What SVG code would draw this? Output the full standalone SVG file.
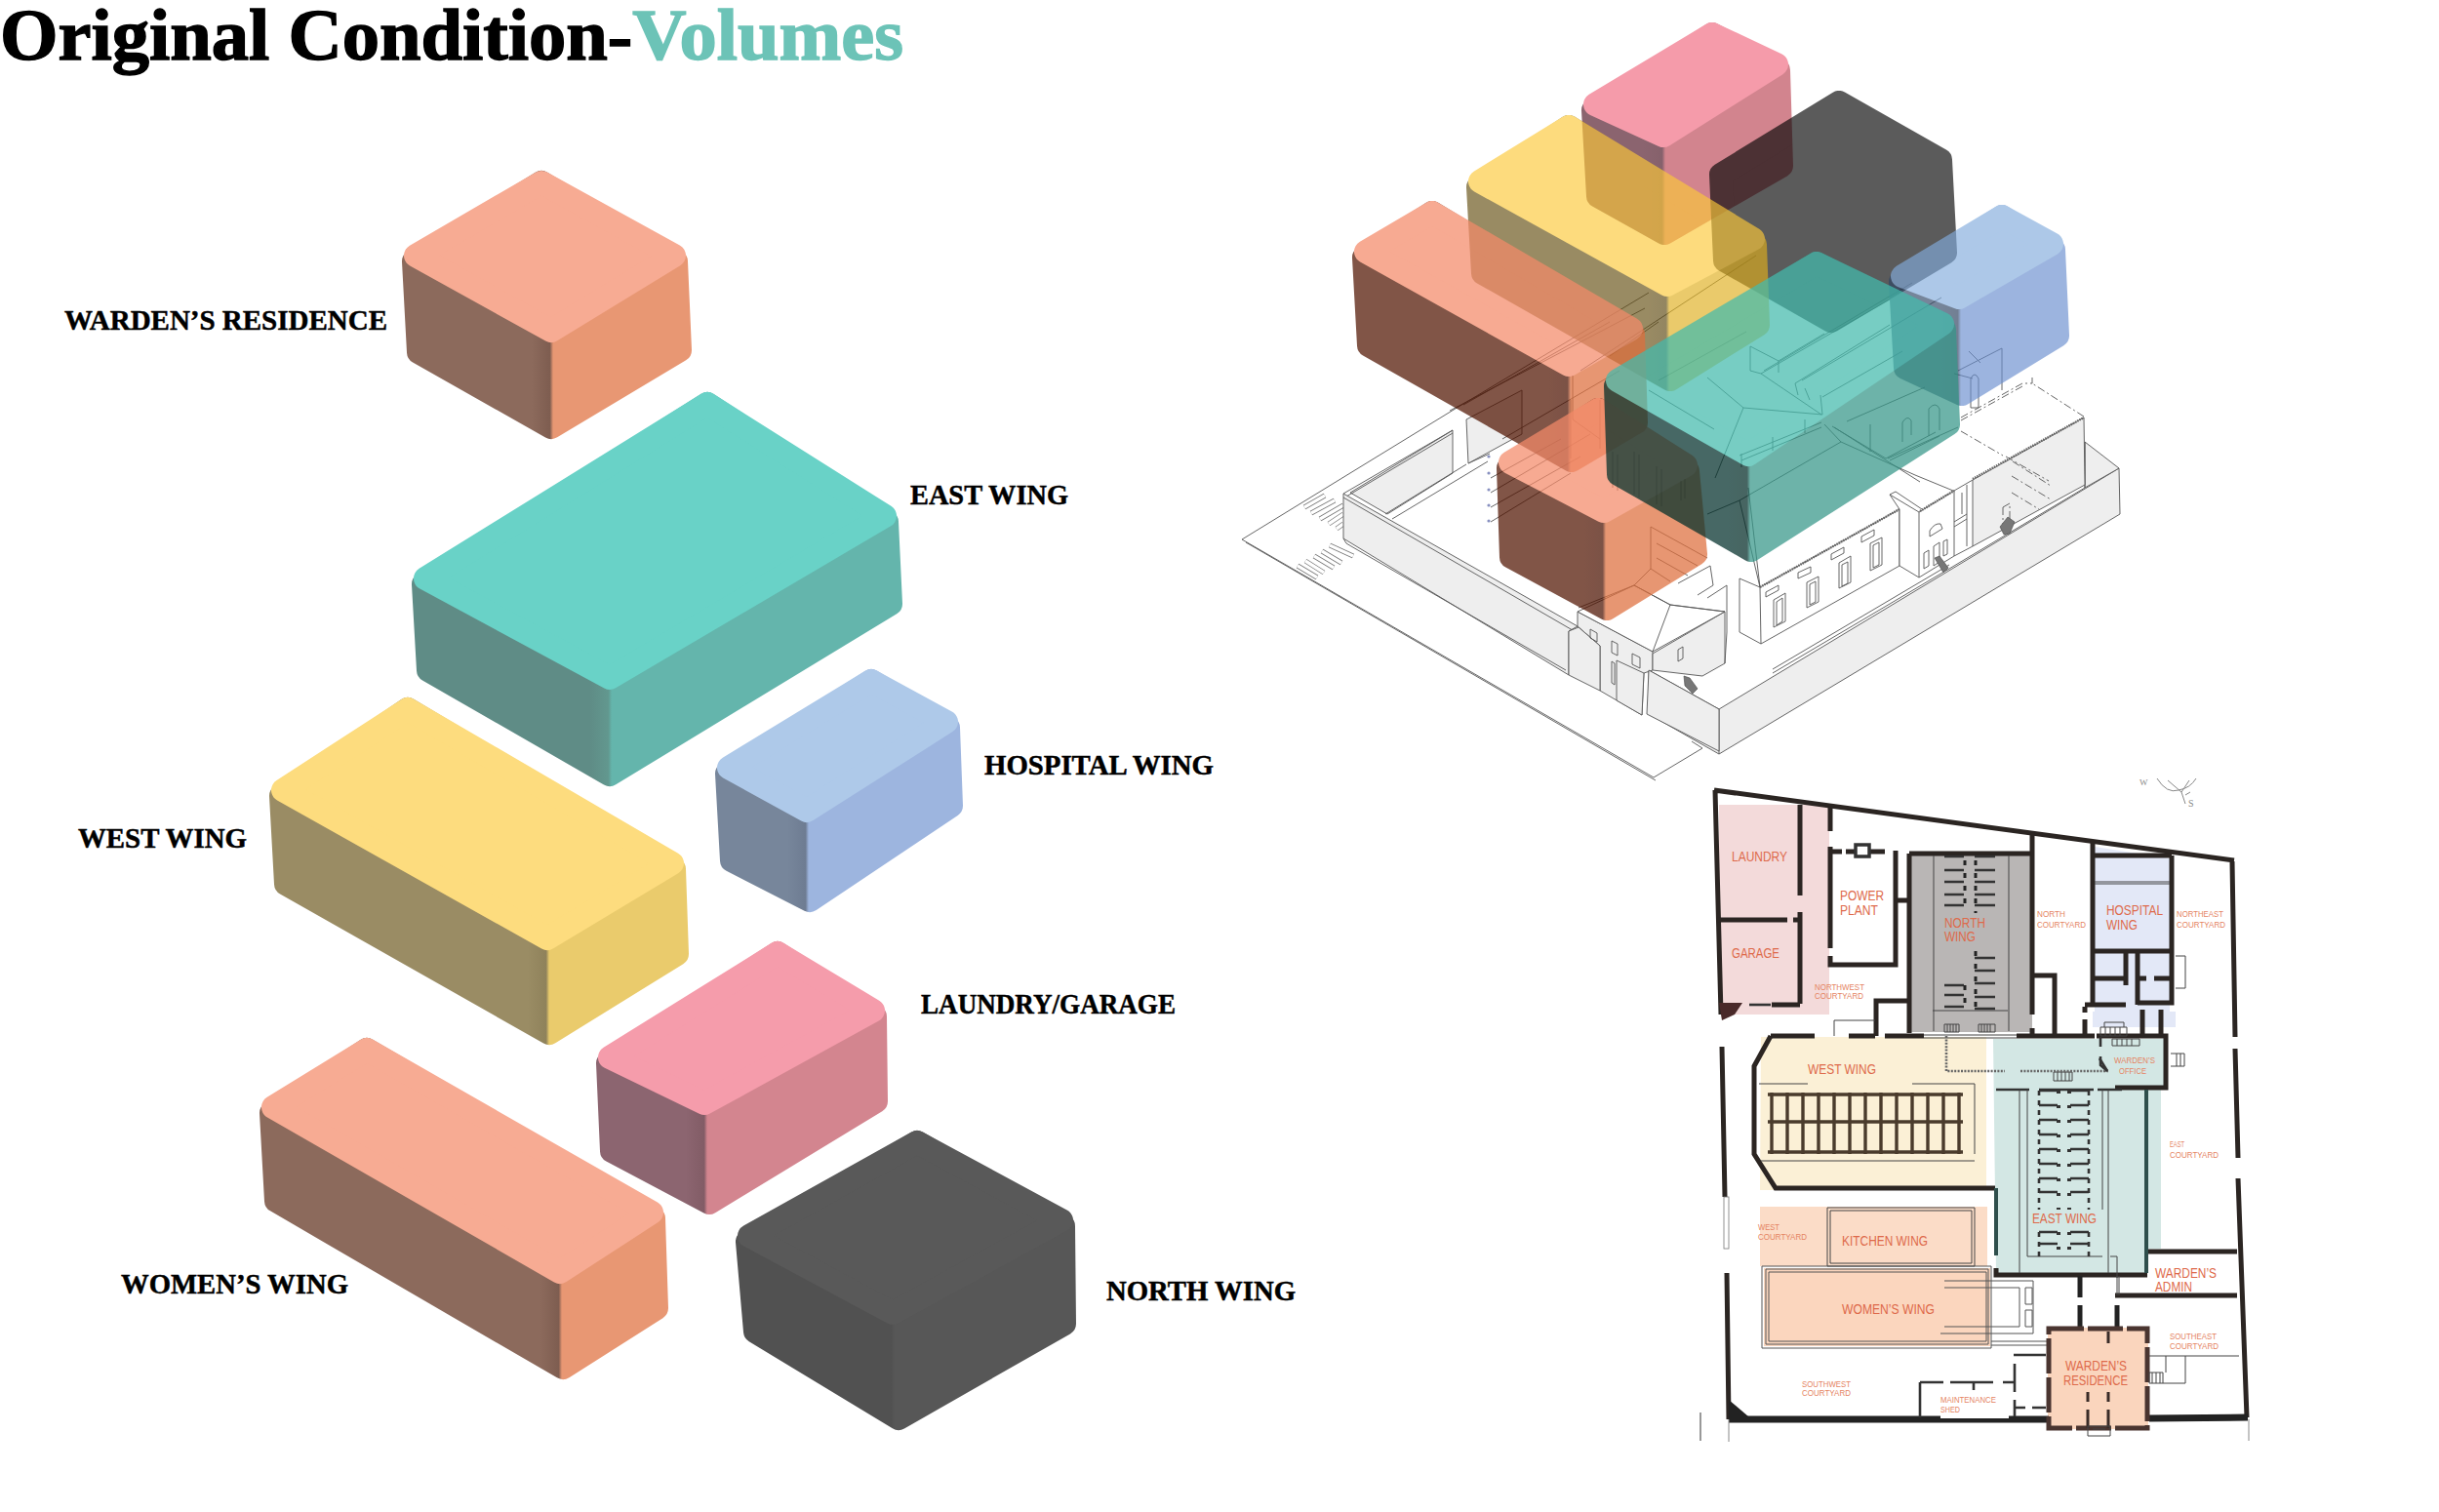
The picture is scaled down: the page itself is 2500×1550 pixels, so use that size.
<svg xmlns="http://www.w3.org/2000/svg" xmlns:xlink="http://www.w3.org/1999/xlink" width="2500" height="1550" viewBox="0 0 2500 1550">
<style>
text{font-family:"Liberation Serif","Times New Roman",serif}
.t{font-size:74px;font-weight:700;stroke:currentColor;stroke-width:1.4}
.l{font-size:30px;font-weight:700;fill:#000;stroke:#000;stroke-width:.5}
.s,.f{stroke-linejoin:round;stroke-width:24}
.p text{font-family:"Liberation Sans",Arial,sans-serif;fill:#DE6A4B;font-size:14px}
.p text.m{font-size:9px;fill:#E58463}
.vol{opacity:.65}
.vo{opacity:.72}
.a{fill:none;stroke:#555;stroke-width:.9}
.w{fill:#EEE;stroke:#555;stroke-width:.9;stroke-linejoin:round}
.bw{fill:#fff;stroke:#555;stroke-width:.9;stroke-linejoin:round}
.h{fill:none;stroke:#666;stroke-width:2.4;stroke-dasharray:1.5 1}
.k{fill:none;stroke:#2b2522;stroke-width:5}
.k2{fill:none;stroke:#333;stroke-width:2.6}
.th{fill:none;stroke:#444;stroke-width:1}
.lg{fill:none;stroke:#888;stroke-width:1}
.kb{fill:none;stroke:#4a3b2c;stroke-width:3.4}
</style>
<defs>
<linearGradient id="cO"><stop offset="0" stop-color="#8C6A5C"/><stop offset=".85" stop-color="#7E5D50"/><stop offset="1" stop-color="#E89773"/></linearGradient>
<linearGradient id="cT"><stop offset="0" stop-color="#5F8C86"/><stop offset=".85" stop-color="#62988F"/><stop offset="1" stop-color="#64B5AC"/></linearGradient>
<linearGradient id="cB"><stop offset="0" stop-color="#77869B"/><stop offset=".85" stop-color="#6E7C92"/><stop offset="1" stop-color="#9DB5DF"/></linearGradient>
<linearGradient id="cY"><stop offset="0" stop-color="#9A8C64"/><stop offset=".85" stop-color="#8F825B"/><stop offset="1" stop-color="#EACB6C"/></linearGradient>
<linearGradient id="cP"><stop offset="0" stop-color="#8C6570"/><stop offset=".85" stop-color="#825C66"/><stop offset="1" stop-color="#D3858F"/></linearGradient>
<linearGradient id="cD"><stop offset="0" stop-color="#515151"/><stop offset=".85" stop-color="#515151"/><stop offset="1" stop-color="#575757"/></linearGradient>
<linearGradient id="aO"><stop offset="0" stop-color="#511401"/><stop offset=".85" stop-color="#4A1000"/><stop offset="1" stop-color="#DF6F3D"/></linearGradient>
<linearGradient id="aT"><stop offset="0" stop-color="#012F2A"/><stop offset=".85" stop-color="#012A26"/><stop offset="1" stop-color="#369789"/></linearGradient>
<linearGradient id="aB"><stop offset="0" stop-color="#2E4565"/><stop offset=".85" stop-color="#273C5A"/><stop offset="1" stop-color="#688DCE"/></linearGradient>
<linearGradient id="aY"><stop offset="0" stop-color="#644E11"/><stop offset=".85" stop-color="#5A460E"/><stop offset="1" stop-color="#DFAF1D"/></linearGradient>
<linearGradient id="aP"><stop offset="0" stop-color="#4E1223"/><stop offset=".85" stop-color="#460E1E"/><stop offset="1" stop-color="#BB4353"/></linearGradient>
<linearGradient id="g1" href="#cO" gradientUnits="userSpaceOnUse" x1="545" x2="567"/>
<linearGradient id="g2" href="#cT" gradientUnits="userSpaceOnUse" x1="605" x2="627"/>
<linearGradient id="g3" href="#cB" gradientUnits="userSpaceOnUse" x1="807" x2="829"/>
<linearGradient id="g4" href="#cY" gradientUnits="userSpaceOnUse" x1="541" x2="563"/>
<linearGradient id="g5" href="#cP" gradientUnits="userSpaceOnUse" x1="703" x2="725"/>
<linearGradient id="g6" href="#cO" gradientUnits="userSpaceOnUse" x1="554" x2="576"/>
<linearGradient id="g7" href="#cD" gradientUnits="userSpaceOnUse" x1="895" x2="917"/>
<linearGradient id="h1" href="#aP" gradientUnits="userSpaceOnUse" x1="1685" x2="1707"/>
<linearGradient id="h3" href="#aY" gradientUnits="userSpaceOnUse" x1="1689" x2="1711"/>
<linearGradient id="h4" href="#aO" gradientUnits="userSpaceOnUse" x1="1588" x2="1610"/>
<linearGradient id="h5" href="#aB" gradientUnits="userSpaceOnUse" x1="1988" x2="2010"/>
<linearGradient id="h6" href="#aO" gradientUnits="userSpaceOnUse" x1="1624" x2="1646"/>
<linearGradient id="h7" href="#aT" gradientUnits="userSpaceOnUse" x1="1772" x2="1794"/>
<path id="stripes" d="M1337,520 L1358,508 M1344,526 L1368,513 M1353,532 L1377,518 M1362,537 L1377,527 M1370,542 L1377,537 M1330,580 L1350,592 M1338,575 L1357,587 M1347,570 L1367,582 M1355,565 L1375,577 M1363,559 L1387,570"/>
</defs>

<g id="title"><text class="t" x="0" y="61" textLength="926" lengthAdjust="spacingAndGlyphs" color="#000">Original Condition-<tspan fill="#6CC3B7" stroke="#6CC3B7">Volumes</tspan></text></g>

<g id="wardens-residence">
<polygon class="s" fill="url(#g1)" stroke="url(#g1)" points="424,268 555,187 693,268 697,359 565,438 429,361"/>
<polygon class="f" fill="#F7AB93" stroke="#F7AB93" points="555,187 691,262 565,339 426,262"/>
<text class="l" x="66" y="338" textLength="331" lengthAdjust="spacingAndGlyphs">WARDEN’S RESIDENCE</text>
</g>
<g id="east-wing">
<polygon class="s" fill="url(#g2)" stroke="url(#g2)" points="434,599 725,414 909,535 913,619 625,794 439,687"/>
<polygon class="f" fill="#69D2C7" stroke="#69D2C7" points="725,414 907,529 625,695 436,593"/>
<text class="l" x="933" y="517" textLength="162" lengthAdjust="spacingAndGlyphs">EAST WING</text>
</g>
<g id="hospital-wing">
<polygon class="s" fill="url(#g3)" stroke="url(#g3)" points="745,793 893,698 972,746 975,826 830,923 750,882"/>
<polygon class="f" fill="#AEC9E9" stroke="#AEC9E9" points="893,698 970,740 827,831 747,787"/>
<text class="l" x="1009" y="794" textLength="235" lengthAdjust="spacingAndGlyphs">HOSPITAL WING</text>
</g>
<g id="west-wing">
<polygon class="s" fill="url(#g4)" stroke="url(#g4)" points="288,816 418,727 691,891 694,978 563,1059 293,906"/>
<polygon class="f" fill="#FDDC7E" stroke="#FDDC7E" points="418,727 689,885 561,962 290,810"/>
<text class="l" x="80" y="869" textLength="173" lengthAdjust="spacingAndGlyphs">WEST WING</text>
</g>
<g id="laundry-garage">
<polygon class="s" fill="url(#g5)" stroke="url(#g5)" points="623,1090 797,977 897,1042 898,1129 727,1233 627,1180"/>
<polygon class="f" fill="#F59CAB" stroke="#F59CAB" points="797,977 895,1036 722,1131 625,1084"/>
<text class="l" x="944" y="1039" textLength="261" lengthAdjust="spacingAndGlyphs">LAUNDRY/GARAGE</text>
</g>
<g id="womens-wing">
<polygon class="s" fill="url(#g6)" stroke="url(#g6)" points="278,1141 376,1076 670,1249 673,1341 577,1402 283,1231"/>
<polygon class="f" fill="#F7AB93" stroke="#F7AB93" points="376,1076 668,1243 574,1304 280,1135"/>
<text class="l" x="124" y="1326" textLength="233" lengthAdjust="spacingAndGlyphs">WOMEN’S WING</text>
</g>
<g id="north-wing">
<polygon class="s" fill="url(#g7)" stroke="url(#g7)" points="766,1273 940,1171 1090,1257 1091,1357 921,1454 774,1365"/>
<polygon class="f" fill="#595959" stroke="#595959" points="940,1171 1088,1251 915,1346 768,1267"/>
<text class="l" x="1134" y="1333" textLength="194" lengthAdjust="spacingAndGlyphs">NORTH WING</text>
</g>

<g id="axon-base">
<path class="a" d="M1273,553 L1695,797 L1745,767 L1734,760 M1273,553 L1490,420 M1277,556 L1697,800"/>
<use href="#stripes" fill="none" stroke="#777" stroke-width="5"/>
<use href="#stripes" fill="none" stroke="#fff" stroke-width="3.4"/>
<polygon class="w" points="1489,441 1489,485 1422,527 1384,505"/>
<path class="a" d="M1377,506 L1489,441 M1380,509 L1489,444 M1420,527 L1503,476 M1427,532 L1525,473 M1527,465 L1505,475"/>
<polygon class="w" points="1503,430 1505,475 1560,445 1560,400"/>
<polygon class="w" points="1377,506 1377,552 1608,692 1608,647 1617,642"/>
<path class="a" d="M1377,510 L1617,649 M1385,560 L1605,687 M1377,552 Q1379,558 1385,560"/>
<polygon class="w" points="1762,727 2172,480 2173,527 1762,773 1690,732 1690,687"/>
<path class="a" d="M1817,690 L1998,583 L2137,500 M1762,727 V773 M1817,686 L1998,579"/>
<polygon class="w" points="2137,453 2172,480 2137,500"/>
<path class="a" d="M2133,452 V497 M2137,453 V500"/>
<polygon class="w" points="1617,627 1694,668 1694,687 1685,690 1683,733 1640,708 1640,662 1617,642"/>
<polygon class="w" points="1694,670 1768,627 1768,680 1745,693 1694,687"/>
<polygon class="w" points="1608,647 1618,643 1640,662 1640,708 1608,692"/>
<polygon class="w" points="1657,677 1685,690 1683,733 1657,718"/>
<polygon class="w" points="1690,687 1762,727 1762,770 1688,732"/>
<polygon class="bw" points="1617,627 1675,600 1712,620 1768,627 1694,668"/>
<path class="a" d="M1618,623 L1675,600 L1692,583 M1675,600 L1712,620 L1694,668 M1712,620 L1768,627 M1692,540 V583 L1712,596 M1692,540 L1750,572 M1698,557 L1740,580 M1698,572 L1730,590 M1720,598 L1753,580 L1756,600 L1740,610 M1750,613 L1770,600 V648 L1768,680"/>
<path class="a" d="M1630,645 l7,4 v9 l-7,-4z M1652,657 l6,3 v12 l-6,-3z M1673,670 l8,4 v11 l-8,-4z M1720,666 l5,-3 v12 l-5,3z M1652,678 l3,2 v22 l-3,-2z M1653,463 v37 M1658,466 v37 M1675,463 v44 M1680,466 v44 M1698,478 v39 M1703,481 v38 M1723,493 v20 M1727,491 v20"/>
<polygon fill="#777" stroke="#444" stroke-width=".6" points="1726,693 1732,695 1740,706 1735,711 1727,703"/>
<polygon class="bw" points="1783,593 1804,602 1947,522 1947,580 1805,660 1783,648"/>
<path class="a" d="M1804,602 L1805,660 M1792,500 L1804,602"/>
<path class="h" d="M1804,602 L1947,522"/>
<path class="a" d="M1818,615 l12,-7 v29 l-12,6z M1821,617 l6,-4 v24 l-6,4z M1852,597 l12,-6 v26 l-12,6z M1855,599 l6,-3 v21 l-6,3z M1885,577 l12,-7 v27 l-12,6z M1888,579 l6,-3 v22 l-6,3z M1917,557 l12,-6 v28 l-12,6z M1920,559 l6,-3 v23 l-6,3z M1810,607 l13,-7 v5 l-13,7z M1843,587 l13,-6 v6 l-13,6z M1877,568 l13,-7 v6 l-13,7z M1908,550 l13,-7 v6 l-13,7z"/>
<polygon class="bw" points="1967,525 2003,503 2003,570 1967,592 1947,580 1947,522 1937,507"/>
<path class="a" d="M1967,525 V592 M1937,507 L1943,504 L1970,522 M1978,550 v-6 q5,-8 11,-7 l2,5 l-13,8z M1972,567 l5,-3 v16 l-5,3z M1982,560 l6,-4 v20 l-6,4z M1992,555 l4,-2 v15 l-4,2z"/>
<polygon fill="#777" stroke="#444" stroke-width=".6" points="1983,572 1988,570 1997,582 1992,587"/>
<path class="a" d="M2003,503 L2022,492 M2003,570 L2022,560 M2003,535 L2016,527 M2003,540 L2016,532 M2016,497 V560 M2011,505 V527"/>
<polygon class="w" points="2022,492 2136,428 2137,497 2022,560"/>
<path class="h" d="M2022,491 L2136,428 M1968,524 L2003,503"/>
<path class="a" d="M2136,427 L2083,393 M2083,387 L2083,393 L2073,393 M2010,428 L2073,393 M2010,431 L2073,396 M2010,442 L2053,467 M2056,468 L2100,493 M2063,473 L2102,498 M2062,488 L2102,512 M2062,505 L2090,522 M2053,520 l7,-4 v19 M2053,520 v18" stroke-dasharray="8 3 2 3"/>
<polygon fill="#777" stroke="#444" stroke-width=".6" points="2050,540 2058,530 2065,535 2060,547 2054,548"/>
<path class="a" d="M1750,387 L1787,418 L1868,425 M1787,418 L1758,490 M1750,527 L1783,513 L1804,602 M1783,513 L1887,453 L1870,435 M1887,453 L1963,487 L2002,503 M1935,470 L2007,438 M1878,437 L1933,470 M1805,383 L1867,425 M1805,383 L1937,307 M1808,380 L1960,290 M1847,390 L1990,305 M1893,432 L1973,397 M1840,393 L1937,333 M1868,407 L1950,360 M1783,467 L1867,433 M1785,472 L1867,438 M1794,355 V380 L1805,383 M1794,355 L1823,370 L1870,342 M1823,370 V382 M1785,465 v14 M1817,448 v14 M1850,430 v14 M1840,393 L1843,405 M1850,398 L1855,410 M1866,405 L1868,425 M1950,453 v-20 q5,-8 9,-2 v15 M1977,447 v-28 q7,-8 11,0 v22 M1917,435 v28 M1933,470 L1984,443 M1937,472 L1988,447 M2020,388 v30 h8 v-30 q-4,-8 -8,0 M2007,380 L2052,357 V400 M2030,372 L2018,360 M2003,383 L2022,388 M1880,438 L1968,494"/>
<path class="a" d="M1490,420 L1690,300 M1486,421 L1686,316 M1500,415 L1650,330 M1540,450 L1660,380 M1528,490 L1600,450 M1528,505 L1630,445 M1528,520 L1620,468 M1528,535 L1610,485 M1610,410 V470 M1640,410 V460 M1757,440 L1690,400 M1620,380 L1800,262 M1650,365 L1700,330 M1612,385 V430 L1640,450 M1700,390 L1790,340"/>
<g fill="#8890c0"><circle cx="1526" cy="468" r="1.6"/><circle cx="1526" cy="485" r="1.6"/><circle cx="1526" cy="502" r="1.6"/><circle cx="1526" cy="518" r="1.6"/><circle cx="1526" cy="534" r="1.6"/></g>
</g>

<g id="axon-laundry-garage" class="vol">
<polygon class="s" fill="url(#h1)" stroke="url(#h1)" points="1633,113 1755,35 1823,72 1826,170 1706,239 1638,201"/>
<polygon class="f" fill="#F0677E" stroke="#F0677E" points="1755,35 1821,66 1705,139 1635,107"/>
</g>
<g id="axon-north-wing" class="vol">
<polygon class="s" fill="#050505" stroke="#050505" points="1764,179 1885,105 1989,164 1994,259 1877,329 1768,267"/>
</g>
<g id="axon-hospital-wing" class="vol">
<polygon class="s" fill="url(#h5)" stroke="url(#h5)" points="1948,289 2052,222 2105,256 2109,344 2011,404 1953,377"/>
<polygon class="f" fill="#82ACDD" stroke="#82ACDD" points="2052,222 2103,250 2008,305 1950,283"/>
</g>
<g id="axon-west-wing" class="vol">
<polygon class="s" fill="url(#h3)" stroke="url(#h3)" points="1515,192 1608,130 1799,251 1802,333 1712,389 1520,280"/>
<polygon class="f" fill="#FCC939" stroke="#FCC939" points="1608,130 1797,245 1709,292 1517,186"/>
</g>
<g id="axon-womens-wing" class="vo">
<polygon class="s" fill="url(#h4)" stroke="url(#h4)" points="1398,264 1468,218 1674,343 1677,433 1611,472 1403,354"/>
<polygon class="f" fill="#F48A69" stroke="#F48A69" points="1468,218 1672,337 1608,374 1400,258"/>
</g>
<g id="axon-wardens-residence" class="vo">
<polygon class="s" fill="url(#h6)" stroke="url(#h6)" points="1546,480 1638,420 1730,483 1738,568 1647,624 1549,571"/>
<polygon class="f" fill="#F48A69" stroke="#F48A69" points="1638,420 1728,477 1644,524 1548,474"/>
</g>
<g id="axon-east-wing" class="vo">
<polygon class="s" fill="url(#h7)" stroke="url(#h7)" points="1656,396 1862,270 1993,338 1997,435 1795,564 1659,486"/>
<polygon class="f" fill="#43BBAD" stroke="#43BBAD" points="1862,270 1991,332 1792,466 1658,390"/>
</g>

<g id="plan">
<g id="plan-fills">
<rect x="1762" y="825" width="113" height="215" fill="#F3DADA"/>
<rect x="1959" y="877" width="124" height="181" fill="#B9B6B5"/>
<polygon points="2147,868 2224,880 2224,1037 2230,1037 2230,1053 2145,1053 2145,1037 2147,1037" fill="#E3E8F7"/>
<polygon points="1805,1063 2036,1063 2036,1220 1804,1220" fill="#FBF0D6"/>
<polygon points="2043,1065 2220,1065 2220,1117 2215,1117 2215,1280 2200,1280 2200,1305 2046,1305" fill="#D3E7E4"/>
<rect x="1804" y="1237" width="233" height="61" fill="#FBDCC7"/>
<rect x="1808" y="1300" width="232" height="80" fill="#FBD6BE"/>
<rect x="2099" y="1361" width="103" height="104" fill="#FAD5BD"/>
</g>
<g id="plan-walls">
<path class="k" d="M1757,810 L2290,882 M1758,810 L1764,1040 M1765,1073 L1768,1227 M1770,1305 L1772,1455 M2288,883 L2291,1063 M2291,1075 L2294,1187 M2294,1208 L2303,1453"/>
<path d="M1772,1455 H2100 M2203,1454 L2304,1453" fill="none" stroke="#222" stroke-width="7"/>
<rect x="1767" y="1227" width="5" height="53" fill="#fff" stroke="#777" stroke-width=".8"/>
<polygon points="1772,1435 1792,1452 1772,1452" fill="#222"/>
<polygon points="1762,1028 1786,1028 1778,1040 1765,1046" fill="#4a2a2a"/>
<path class="k" d="M1845,825 V918 M1845,935 V1029 M1761,943 H1832 M1838,943 H1845 M1816,1030 H1845 M1876,828 V852 M1876,868 V972 M1876,980 V989 H1943 V872 M1876,873 H1888 M1892,873 H1932 M1943,923 H1957"/>
<path class="k2" d="M1793,1030 H1815"/>
<rect x="1902" y="866" width="14" height="12" fill="#fff" stroke="#333" stroke-width="3.5"/>
<path class="k" d="M1957,875 H2084 M1957,875 V1059 M2083,852 V1040 M2083,1054 V1060 M2083,1000 H2106 V1062 M1923,1062 V1026 H1956 M1815,1062 H1860 M1895,1062 H1922 M1932,1062 H1972 M2067,1062 H2147 M2137,1045 V1062 M2137,1032 V1038"/>
<path class="th" d="M1880,1046 H1922 M1880,1046 V1062 M1972,1061 H2067 M1972,1064 H2067"/>
<path class="k" d="M1815,1062 L1798,1093 V1183 L1820,1218 H2045 M2046,1300 V1307 H2201 M2201,1283 H2293 M2168,1328 H2293 M2149,1062 H2220 V1115 H2168"/>
<path class="k2" d="M2153,1063 V1073 M2153,1083 V1092 L2160,1098"/>
<path class="k" d="M2145,862 V1030 H2179 M2226,877 V1028 H2191 M2145,877 H2226 M2147,975 H2224 M2179,975 V1010 M2191,975 V1030 M2147,1003 H2178 M2191,1003 H2200 M2208,1003 H2225 M2196,1035 V1060 M2215,1035 V1060 M2137,1030 H2145"/>
<path class="th" d="M2147,904 H2224 M2147,906 H2224 M2230,980 H2240 V1013 H2230"/>
<path class="kb" d="M1812,1122 H2012 M1812,1150 H2012 M1812,1181 H2012 M1816,1120 V1183 M1832,1120 V1183 M1848,1120 V1183 M1864,1120 V1183 M1880,1120 V1183 M1896,1120 V1183 M1912,1120 V1183 M1928,1120 V1183 M1944,1120 V1183 M1960,1120 V1183 M1976,1120 V1183 M1992,1120 V1183 M2008,1120 V1183"/>
<path class="th" d="M1803,1111 H1853 M1960,1111 H2024 V1183 M1805,1190 H2024"/>
<path class="th" d="M1982,877 V1057 M2059,877 V1057 M1981,1036 H2058"/>
<path class="k2" d="M1993,878 H2013 M1993,892 H2013 M1993,904 H2013 M1993,917 H2013 M1993,928 H2013 M2024,878 H2045 M2024,892 H2045 M2024,904 H2045 M2024,917 H2045 M2024,928 H2045 M2024,982 H2045 M2024,995 H2045 M2024,1008 H2045 M2024,1022 H2045 M2024,1034 H2045 M1993,1010 H2013 M1993,1020 H2013 M1993,1032 H2013"/>
<path d="M2014,882 V930 M2025,882 V936 M2025,975 V1036 M2014,1010 V1034" fill="none" stroke="#222" stroke-width="3" stroke-dasharray="5 8"/>
<path class="th" d="M1993,1050 h15 v8 h-15z M1996,1050 v8 M1999,1050 v8 M2002,1050 v8 M2005,1050 v8 M2028,1050 h17 v8 h-17z M2031,1050 v8 M2034,1050 v8 M2037,1050 v8 M2040,1050 v8 M2105,1099 h19 v9 h-19z M2109,1099 v9 M2113,1099 v9 M2117,1099 v9 M2121,1099 v9 M2165,1065 h28 v7 h-28z M2170,1065 v7 M2175,1065 v7 M2180,1065 v7 M2185,1065 v7 M2153,1053 h27 v9 h-27z M2158,1053 v9 M2163,1053 v9 M2168,1053 v9 M2173,1053 v9 M2157,1053 v-5 h20 v5 M2225,1080 h14 v13 h-14 M2231,1080 v13 M2235,1080 v13"/>
<path d="M1995,1062 V1098 H2055 M2071,1098 H2161" fill="none" stroke="#666" stroke-width="2.6" stroke-dasharray="2 1.4"/>
<path class="k2" d="M2046,1117 H2080 M2090,1117 H2146 M2150,1117 H2175 M2152,1085 L2160,1098"/>
<path class="th" d="M2070,1117 V1305 M2078,1117 V1288 H2155 M2155,1117 V1240 M2161,1117 V1305 M2163,1288 H2170 V1310"/>
<path class="k2" stroke-width="2" d="M2090,1118 H2109 M2090,1133 H2109 M2090,1148 H2109 M2090,1163 H2109 M2090,1178 H2109 M2090,1193 H2109 M2090,1208 H2109 M2090,1222 H2109 M2122,1118 H2141 M2122,1133 H2141 M2122,1148 H2141 M2122,1163 H2141 M2122,1178 H2141 M2122,1193 H2141 M2122,1208 H2141 M2122,1222 H2141 M2090,1263 H2109 M2090,1275 H2109 M2122,1263 H2141 M2122,1275 H2141"/>
<path d="M2110,1118 V1240 M2121,1118 V1240 M2110,1263 V1288 M2121,1263 V1288" fill="none" stroke="#333" stroke-width="4" stroke-dasharray="3 12"/>
<path class="k2" stroke="#555" d="M2090,1118 V1240 M2141,1118 V1240 M2090,1263 V1288 M2141,1263 V1288" stroke-dasharray="5 5"/>
<rect x="2198" y="1117" width="4" height="188" fill="#2f4f4c"/>
<rect x="2044" y="1218" width="4" height="69" fill="#2f4f4c"/>
<path class="th" d="M1873,1238 H2024 V1298 H1873Z M1876,1241 H2021 V1295 H1876Z"/>
<path d="M1806,1298 H2041 V1382 H1806Z M1810,1301 H2038 V1378 H1810Z M1813,1304 H2036 V1375 H1813Z M1993,1313 H2084 V1367 H1989 M1993,1320 H2070 V1360 H1993 M2076,1320 h7 v17 h-7z M2076,1343 h7 v17 h-7z M2041,1375 H2099 M2041,1379 H2099" fill="none" stroke="#555" stroke-width="1"/>
<path d="M2132,1308 V1330 M2132,1338 V1360 M2170,1338 V1360" stroke="#222" stroke-width="5" fill="none"/>
<path class="th" d="M2170,1308 V1328 M2172,1308 V1328"/>
<rect x="2100" y="1362" width="101" height="102" fill="none" stroke="#4a3530" stroke-width="5" stroke-dasharray="36 4"/>
<path d="M2161,1365 V1377 M2140,1427 V1437 M2161,1427 V1437 M2140,1445 V1464 M2161,1445 V1464" fill="none" stroke="#3a2c28" stroke-width="3"/>
<path class="th" d="M2203,1390 H2295 M2220,1390 V1407 M2240,1390 V1418 H2217 M2203,1407 h14 v11 h-14z M2206,1407 v11 M2210,1407 v11 M2214,1407 v11 M2140,1462 h23 v10 h-23z M2145,1465 h13"/>
<path class="k2" stroke-width="3" d="M1968,1417 H1992 M1999,1417 H2043 M2053,1417 H2065 M2065,1398 V1427 M2065,1435 V1452 M2065,1443 H2076 M2083,1443 H2097 M2064,1389 H2097 M2023,1417 V1425"/>
<path class="k2" d="M1968,1417 V1453"/>
<rect x="1989" y="1451" width="70" height="3" fill="#fff"/>
<path d="M1772,1455 V1478 M2305,1455 V1477" fill="none" stroke="#888" stroke-width="1"/>
<path d="M1743,1448 V1477" fill="none" stroke="#999" stroke-width="2"/>
<path class="lg" d="M2211,798 q10,16 22,12 q12,-2 18,-12 M2236,812 l4,12 M2222,800 l14,12 l8,-12 M2240,815 l5,-3"/>
<text x="2193" y="805" font-size="9" fill="#888">W</text>
<text x="2243" y="827" font-size="10" fill="#888">S</text>
</g>
<g id="plan-labels" class="p">
<text x="1775" y="883" textLength="57" lengthAdjust="spacingAndGlyphs">LAUNDRY</text>
<text x="1775" y="982" textLength="49" lengthAdjust="spacingAndGlyphs">GARAGE</text>
<text x="1886" y="923" textLength="45" lengthAdjust="spacingAndGlyphs">POWER</text>
<text x="1886" y="938" textLength="39" lengthAdjust="spacingAndGlyphs">PLANT</text>
<text x="1993" y="951" textLength="42" lengthAdjust="spacingAndGlyphs">NORTH</text>
<text x="1993" y="965" textLength="32" lengthAdjust="spacingAndGlyphs">WING</text>
<text class="m" x="2088" y="940" textLength="29" lengthAdjust="spacingAndGlyphs">NORTH</text>
<text class="m" x="2088" y="951" textLength="50" lengthAdjust="spacingAndGlyphs">COURTYARD</text>
<text x="2159" y="938" textLength="58" lengthAdjust="spacingAndGlyphs">HOSPITAL</text>
<text x="2159" y="953" textLength="32" lengthAdjust="spacingAndGlyphs">WING</text>
<text class="m" x="2231" y="940" textLength="48" lengthAdjust="spacingAndGlyphs">NORTHEAST</text>
<text class="m" x="2231" y="951" textLength="50" lengthAdjust="spacingAndGlyphs">COURTYARD</text>
<text class="m" x="1860" y="1015" textLength="51" lengthAdjust="spacingAndGlyphs">NORTHWEST</text>
<text class="m" x="1860" y="1024" textLength="50" lengthAdjust="spacingAndGlyphs">COURTYARD</text>
<text x="1853" y="1101" textLength="70" lengthAdjust="spacingAndGlyphs">WEST WING</text>
<text class="m" x="2167" y="1090" textLength="42" lengthAdjust="spacingAndGlyphs">WARDEN’S</text>
<text class="m" x="2172" y="1101" textLength="28" lengthAdjust="spacingAndGlyphs">OFFICE</text>
<text class="m" x="2224" y="1176" textLength="15" lengthAdjust="spacingAndGlyphs">EAST</text>
<text class="m" x="2224" y="1187" textLength="50" lengthAdjust="spacingAndGlyphs">COURTYARD</text>
<text x="2083" y="1254" textLength="66" lengthAdjust="spacingAndGlyphs">EAST WING</text>
<text class="m" x="1802" y="1261" textLength="22" lengthAdjust="spacingAndGlyphs">WEST</text>
<text class="m" x="1802" y="1271" textLength="50" lengthAdjust="spacingAndGlyphs">COURTYARD</text>
<text x="1888" y="1277" textLength="88" lengthAdjust="spacingAndGlyphs">KITCHEN WING</text>
<text x="1888" y="1347" textLength="95" lengthAdjust="spacingAndGlyphs">WOMEN’S WING</text>
<text x="2117" y="1405" textLength="63" lengthAdjust="spacingAndGlyphs">WARDEN’S</text>
<text x="2115" y="1420" textLength="66" lengthAdjust="spacingAndGlyphs">RESIDENCE</text>
<text x="2209" y="1310" textLength="63" lengthAdjust="spacingAndGlyphs">WARDEN’S</text>
<text x="2209" y="1324" textLength="38" lengthAdjust="spacingAndGlyphs">ADMIN</text>
<text class="m" x="2224" y="1373" textLength="48" lengthAdjust="spacingAndGlyphs">SOUTHEAST</text>
<text class="m" x="2224" y="1383" textLength="50" lengthAdjust="spacingAndGlyphs">COURTYARD</text>
<text class="m" x="1847" y="1422" textLength="50" lengthAdjust="spacingAndGlyphs">SOUTHWEST</text>
<text class="m" x="1847" y="1431" textLength="50" lengthAdjust="spacingAndGlyphs">COURTYARD</text>
<text class="m" x="1989" y="1438" textLength="57" lengthAdjust="spacingAndGlyphs">MAINTENANCE</text>
<text class="m" x="1989" y="1448" textLength="20" lengthAdjust="spacingAndGlyphs">SHED</text>
</g>
</g>
</svg>
